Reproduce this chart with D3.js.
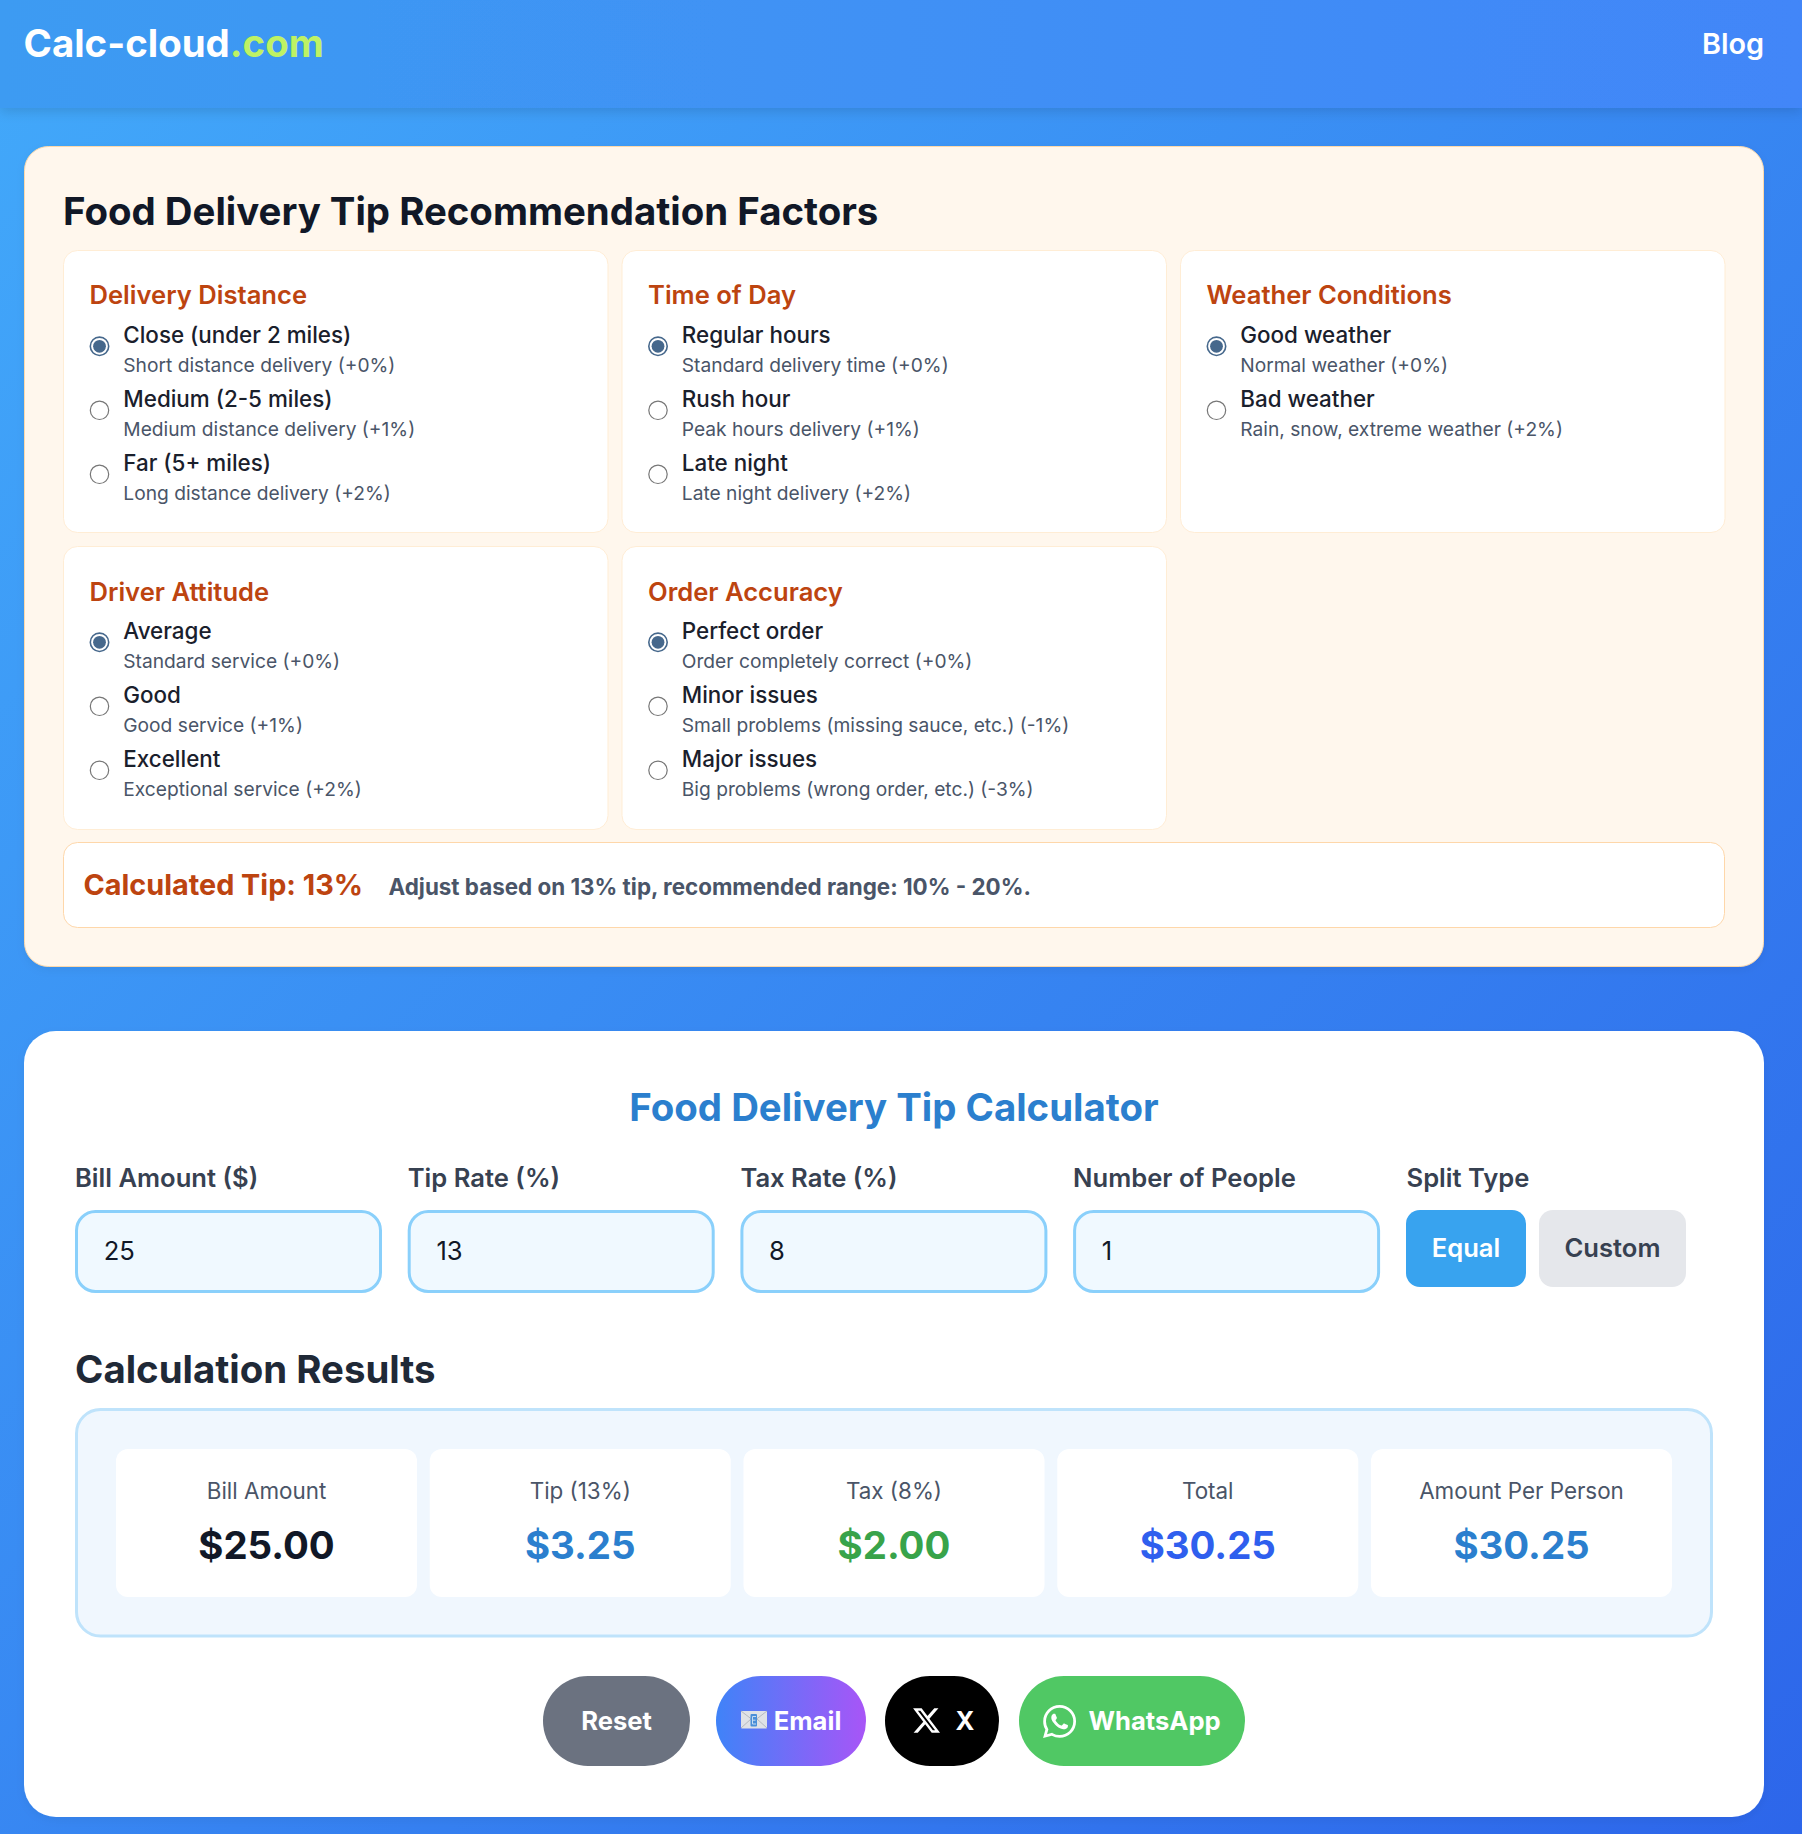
<!DOCTYPE html>
<html><head><meta charset="utf-8">
<script src="https://cdn.jsdelivr.net/npm/d3@7"></script>
<style>html,body{margin:0;padding:0;background:#3b82f6}svg{display:block}text{font-family:Inter,sans-serif}</style>
</head><body><div id="chart"></div>
<script>
const brandName = "Calc-cloud", brandTld = ".com", navLink = "Blog";
const factorsTitle = "Food Delivery Tip Recommendation Factors";
const factorGroups = ["Delivery Distance","Time of Day","Weather Conditions","Driver Attitude","Order Accuracy"];
const factorOptions = [
 ["Close (under 2 miles)","Medium (2-5 miles)","Far (5+ miles)"],
 ["Regular hours","Rush hour","Late night"],
 ["Good weather","Bad weather"],
 ["Average","Good","Excellent"],
 ["Perfect order","Minor issues","Major issues"]];
const factorNotes = [
 ["Short distance delivery (+0%)","Medium distance delivery (+1%)","Long distance delivery (+2%)"],
 ["Standard delivery time (+0%)","Peak hours delivery (+1%)","Late night delivery (+2%)"],
 ["Normal weather (+0%)","Rain, snow, extreme weather (+2%)"],
 ["Standard service (+0%)","Good service (+1%)","Exceptional service (+2%)"],
 ["Order completely correct (+0%)","Small problems (missing sauce, etc.) (-1%)","Big problems (wrong order, etc.) (-3%)"]];
const tipHeadline = "Calculated Tip: 13%";
const tipAdvice = "Adjust based on 13% tip, recommended range: 10% - 20%.";
const calculatorTitle = "Food Delivery Tip Calculator";
const inputLabels = ["Bill Amount ($)","Tip Rate (%)","Tax Rate (%)","Number of People"];
const inputValues = [25,13,8,1];
const splitLabel = "Split Type", splitOptions = ["Equal","Custom"];
const resultsTitle = "Calculation Results";
const resultLabels = ["Bill Amount","Tip (13%)","Tax (8%)","Total","Amount Per Person"];
const resultValues = [25,3.25,2,30.25,30.25];
const resultColors = ["#111827","#2b7fce","#38a34a","#2f5fee","#2b7fce"];

const W=1802,H=1834;
const svg=d3.select("#chart").append("svg").attr("width",W).attr("height",H).attr("viewBox",[0,0,W,H]);
const defs=svg.append("defs");
function grad(id,x1,y1,x2,y2,stops,user){
  const g=defs.append("linearGradient").attr("id",id).attr("x1",x1).attr("y1",y1).attr("x2",x2).attr("y2",y2);
  if(user) g.attr("gradientUnits","userSpaceOnUse");
  stops.forEach((c,i)=>g.append("stop").attr("offset",i/(stops.length-1)).attr("stop-color",c));
}
grad("bg",-8,8,1810,1826,["#42a9fa","#2d66ea"],true);
grad("hd",0,0,1,0,["#3d9bf2","#4286f8"]);
grad("em",0,0,1,0,["#3f83f8","#a855f7"]);
const sh=defs.append("filter").attr("id","sh").attr("x","-5%").attr("y","-20%").attr("width","110%").attr("height","160%");
sh.append("feDropShadow").attr("dx",0).attr("dy",4).attr("stdDeviation",6).attr("flood-color","#000").attr("flood-opacity",.12);
const sh2=defs.append("filter").attr("id","sh2").attr("x","-5%").attr("y","-5%").attr("width","110%").attr("height","110%");
sh2.append("feDropShadow").attr("dx",0).attr("dy",3).attr("stdDeviation",4).attr("flood-color","#000").attr("flood-opacity",.05);

function rect(x,y,w,h,r,fill,stroke,sw,filter){
  const s=svg.append("rect").attr("x",x).attr("y",y).attr("width",w).attr("height",h).attr("rx",r).attr("ry",r).attr("fill",fill);
  if(stroke) s.attr("stroke",stroke).attr("stroke-width",sw||1);
  if(filter) s.attr("filter",`url(#${filter})`);
  return s;
}
function text(x,y,t,size,weight,fill,anchor){
  return svg.append("text").attr("x",x).attr("y",y).attr("font-size",size).attr("font-weight",weight).attr("fill",fill).attr("text-anchor",anchor||"start").text(t);
}

rect(0,0,W,H,0,"url(#bg)");
rect(0,0,W,108,0,"url(#hd)",null,0,"sh");
const logo=text(23.5,56.5,brandName,38.4,700,"#fff");
logo.append("tspan").attr("fill","#bef264").text(brandTld);
text(1764,53.5,navLink,28.8,600,"#fff","end");

// factors card
rect(24.5,146.5,1739,820,24,"#fff7ed","#fdd9ab",1,"sh2");
text(63,225,factorsTitle,38.4,700,"#111827");
const colX=d3.scaleLinear().domain([0,1]).range([63.5,622]);
const rowY=d3.scaleLinear().domain([0,1]).range([250.5,546.5]);
const optY=d3.scaleLinear().domain([0,1]).range([0,64]);
factorGroups.forEach((g,i)=>{
  const c=i%3,r=Math.floor(i/3),x=colX(c),y=rowY(r);
  rect(x,y,544.5,r?283:282,14,"#fff","#ffedd5",1);
  text(x+26,y+53+(r?1:0),g,25.6,600,"#bd4410");
  factorOptions[i].forEach((o,j)=>{
    const dy=optY(j);
    const sel=j===0;
    svg.append("circle").attr("cx",x+36).attr("cy",y+95.8+dy).attr("r",9.2).attr("fill","#fff").attr("stroke",sel?"#46688c":"#767676").attr("stroke-width",sel?1.6:1.2);
    if(sel) svg.append("circle").attr("cx",x+36).attr("cy",y+95.8+dy).attr("r",6.4).attr("fill","#46688c");
    text(x+59.8,y+92.5+dy,o,22.4,500,"#1a202c");
    text(x+59.8,y+121.5+dy,factorNotes[i][j],19.2,400,"#4a5568");
  });
});
rect(63.5,842.5,1661,85,14,"#fff","#fed7aa",1);
text(83.5,895,tipHeadline,28.8,700,"#bd4410");
text(388.5,895,tipAdvice,22.4,700,"#4a5568");

// calculator card
rect(24,1031,1740,786,32,"#fff",null,0,"sh2");
text(894,1120.5,calculatorTitle,38.4,700,"#2b7fce","middle");
const inX=d3.scaleLinear().domain([0,1]).range([75,407.7]);
inputLabels.forEach((l,i)=>{
  text(inX(i),1186.5,l,25.6,600,"#374151");
  rect(inX(i)+1.5,1211.5,304,80,19,"#f0f9ff","#8ad0fb",3);
  text(inX(i)+28.7,1260,d3.format("d")(inputValues[i]),25.6,400,"#111827");
});
text(1406.5,1186.5,splitLabel,25.6,600,"#374151");
const splitX=[1406,1539],splitW=[120,147];
splitOptions.forEach((s,i)=>{
  rect(splitX[i],1210,splitW[i],77,14,i?"#e5e7eb":"#38a3ef");
  text(splitX[i]+splitW[i]/2,1257,s,25.6,600,i?"#374151":"#fff","middle");
});
text(75,1383,resultsTitle,38.4,700,"#1f2937");
rect(76.5,1409.5,1635,226.5,24,"#f0f7fe","#bfe3fb",3);
const resX=d3.scalePoint().domain(d3.range(resultLabels.length)).range([116,1371]);
resultLabels.forEach((l,i)=>{
  rect(resX(i),1449,301,148,12,"#fff");
  text(resX(i)+150.5,1499,l,22.4,400,"#4a5568","middle");
  text(resX(i)+150.5,1558.5,d3.format("$.2f")(resultValues[i]),38.4,700,resultColors[i],"middle");
});

// action buttons
const btnY=1676,btnH=90;
rect(543,btnY,147,btnH,45,"#6b7280");
text(616.5,1730,"Reset",25.6,650,"#fff","middle");
rect(716,btnY,150,btnH,45,"url(#em)");
rect(741,1711,26,17.5,1,"#dfe2e6");
svg.append("path").attr("d","M741 1711 L754 1721 L767 1711 M741 1728 L751 1719 M767 1728 L757 1719").attr("fill","none").attr("stroke","#b5b9c0").attr("stroke-width",1);
rect(750.5,1714,6.5,12.5,1,"#4a8fd8");
svg.append("path").attr("d","M756 1716.5 H752.5 V1724 H756 M752.5 1720.2 H755.5").attr("fill","none").attr("stroke","#c6dcf2").attr("stroke-width",1);
text(773.7,1730,"Email",25.6,650,"#fff");
rect(885,btnY,114,btnH,45,"#000");
svg.append("path").attr("transform","translate(911.5,1705.5) scale(1.25)").attr("fill","#fff").attr("d","M18.244 2.25h3.308l-7.227 8.26 8.502 11.24H16.17l-5.214-6.817L4.99 21.75H1.68l7.73-8.835L1.254 2.25H8.08l4.713 6.231zm-1.161 17.52h1.833L7.084 4.126H5.117z");
text(955.5,1730,"X",25.6,650,"#fff");
rect(1019,btnY,226,btnH,45,"#50c864");
svg.append("path").attr("transform","translate(1043,1705) scale(1.38)").attr("fill","#fff").attr("d","M17.472 14.382c-.297-.149-1.758-.867-2.03-.967-.273-.099-.471-.148-.67.15-.197.297-.767.966-.94 1.164-.173.199-.347.223-.644.075-.297-.15-1.255-.463-2.39-1.475-.883-.788-1.48-1.761-1.653-2.059-.173-.297-.018-.458.13-.606.134-.133.298-.347.446-.52.149-.174.198-.298.298-.497.099-.198.05-.371-.025-.52-.075-.149-.669-1.612-.916-2.207-.242-.579-.487-.5-.669-.51-.173-.008-.371-.01-.57-.01-.198 0-.52.074-.792.372-.272.297-1.04 1.016-1.04 2.479 0 1.462 1.065 2.875 1.213 3.074.149.198 2.096 3.2 5.077 4.487.709.306 1.262.489 1.694.625.712.227 1.36.195 1.871.118.571-.085 1.758-.719 2.006-1.413.248-.694.248-1.289.173-1.413-.074-.124-.272-.198-.57-.347m-5.421 7.403h-.004a9.87 9.87 0 01-5.031-1.378l-.361-.214-3.741.982.998-3.648-.235-.374a9.86 9.86 0 01-1.51-5.26c.001-5.45 4.436-9.884 9.888-9.884 2.64 0 5.122 1.03 6.988 2.898a9.825 9.825 0 012.893 6.994c-.003 5.45-4.437 9.884-9.885 9.884m8.413-18.297A11.815 11.815 0 0012.05 0C5.495 0 .16 5.335.157 11.892c0 2.096.547 4.142 1.588 5.945L.057 24l6.305-1.654a11.882 11.882 0 005.683 1.448h.005c6.554 0 11.89-5.335 11.893-11.893a11.821 11.821 0 00-3.48-8.413z");
text(1088.5,1730,"WhatsApp",25.6,650,"#fff");
</script></body></html>
